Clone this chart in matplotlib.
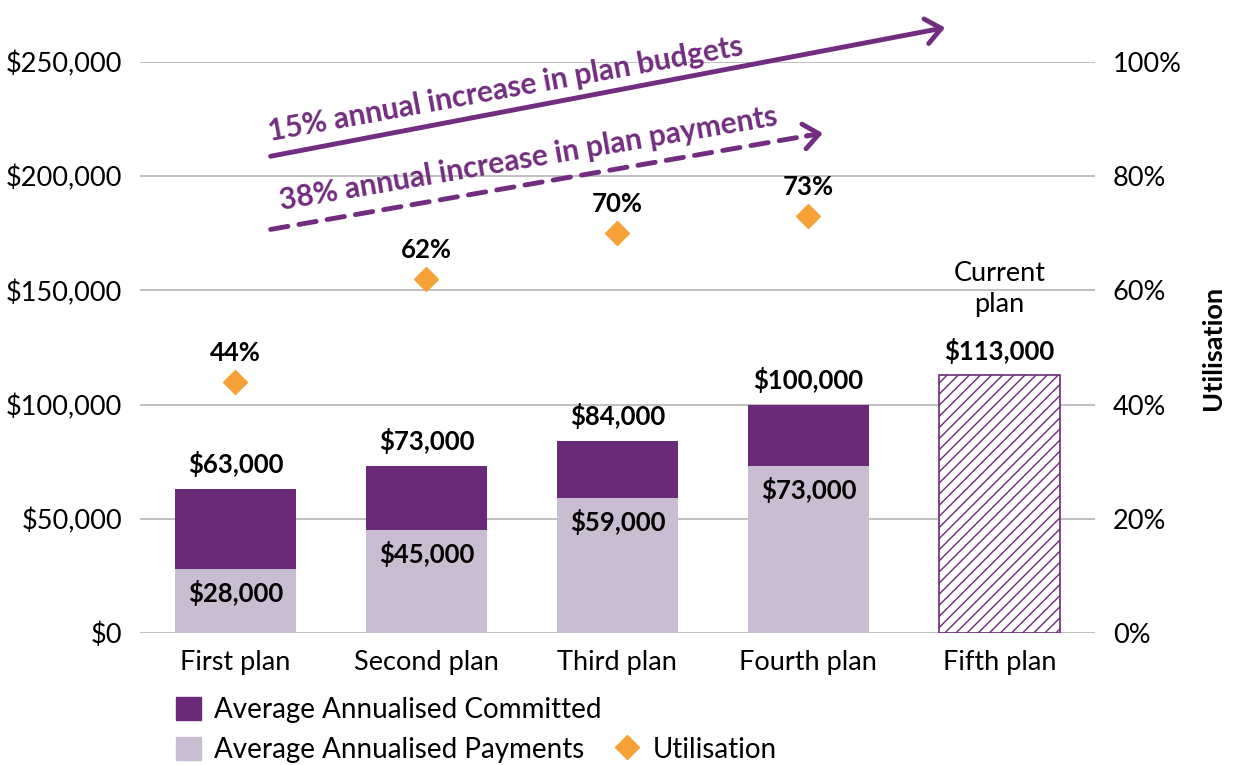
import matplotlib
matplotlib.use("Agg")
import matplotlib.pyplot as plt
from matplotlib.patches import Patch
from matplotlib.lines import Line2D

plt.rcParams['font.family'] = ['Lato', 'DejaVu Sans']
plt.rcParams['hatch.color'] = '#6b2a77'

plans = ['First plan', 'Second plan', 'Third plan', 'Fourth plan', 'Fifth plan']
committed = [63000, 73000, 84000, 100000]
payments = [28000, 45000, 59000, 73000]
current_budget = 113000
utilisation = [44, 62, 70, 73]

dark = '#6b2a77'
light = '#c9bdd2'
orange = '#f7a239'
arrow_col = '#722d80'
grid_col = '#b5b5b5'
fs = 19.5

fig = plt.figure(figsize=(12.33, 7.65), dpi=100)
ax = fig.add_axes([0.1135, 0.1725, 0.7745, 0.7465])
ax2 = ax.twinx()

x = list(range(len(plans)))
w = 0.63
n = len(committed)

ax.bar(x[:n], payments, width=w, color=light, zorder=2)
ax.bar(x[:n], [c - p for c, p in zip(committed, payments)], bottom=payments,
       width=w, color=dark, zorder=2)
ax.bar(x[n], current_budget, width=w, facecolor='white', edgecolor=dark,
       hatch='///', linewidth=1.2, zorder=2)

for i in range(n):
    ax.annotate(f'${committed[i]:,}', (x[i], committed[i]), xytext=(0, 18),
                textcoords='offset points', ha='center', va='center',
                fontsize=18.5, fontweight='bold')
    ax.annotate(f'${payments[i]:,}', (x[i], payments[i]), xytext=(0, -17),
                textcoords='offset points', ha='center', va='center',
                fontsize=18.5, fontweight='bold')
ax.annotate(f'${current_budget:,}', (x[n], current_budget), xytext=(0, 17),
            textcoords='offset points', ha='center', va='center',
            fontsize=18.5, fontweight='bold')
ax.annotate('Current\nplan', (x[n], current_budget), xytext=(0, 62),
            textcoords='offset points', ha='center', va='center',
            fontsize=fs, linespacing=1.3)

ax.set_xlim(-0.5, 4.5)
ax.set_ylim(0, 250000)
ax.set_yticks(range(0, 250001, 50000))
ax.set_yticklabels([f'${v:,}' for v in range(0, 250001, 50000)])
ax.set_xticks(x)
ax.set_xticklabels(plans)
ax.tick_params(length=0, labelsize=fs, pad=13)
ax.tick_params(axis='x', pad=12)
ax.grid(axis='y', color=grid_col, linewidth=1.2, zorder=0)
ax.set_axisbelow(True)
for s in ax.spines.values():
    s.set_visible(False)

ax2.plot(x[:n], utilisation, linestyle='none', marker='D', markersize=12,
         color=orange, zorder=3)
for i in range(n):
    ax2.annotate(f'{utilisation[i]}%', (x[i], utilisation[i]), xytext=(0, 21),
                 textcoords='offset points', ha='center', va='center',
                 fontsize=18.5, fontweight='bold')
ax2.set_ylim(0, 100)
ax2.set_yticks(range(0, 101, 20))
ax2.set_yticklabels([f'{v}%' for v in range(0, 101, 20)])
ax2.tick_params(length=0, labelsize=fs, pad=13)
ax2.set_ylabel('Utilisation', fontsize=fs, fontweight='bold', labelpad=14)
for s in ax2.spines.values():
    s.set_visible(False)

# trend arrows (axes fraction coords)
head = '->,head_length=1.1,head_width=0.9'
ax.annotate('', xy=(0.846, 1.061), xytext=(0.134, 0.834), xycoords='axes fraction',
            arrowprops=dict(arrowstyle=head, color=arrow_col, lw=3.5),
            annotation_clip=False)
ax.annotate('', xy=(0.703, 0.872), xytext=(0.134, 0.706), xycoords='axes fraction',
            arrowprops=dict(arrowstyle='-', color=arrow_col, lw=3.5,
                            linestyle=(0, (3.6, 2.3))), annotation_clip=False)
ax.annotate('', xy=(0.718, 0.876), xytext=(0.695, 0.8695), xycoords='axes fraction',
            arrowprops=dict(arrowstyle=head, color=arrow_col, lw=3.5),
            annotation_clip=False)
ax.text(0.383, 0.952, '15% annual increase in plan budgets', transform=ax.transAxes,
        rotation=10.3, ha='center', va='center', color=arrow_col, fontsize=21.5,
        fontweight='bold', rotation_mode='anchor')
ax.text(0.407, 0.83, '38% annual increase in plan payments', transform=ax.transAxes,
        rotation=9.7, ha='center', va='center', color=arrow_col, fontsize=21.5,
        fontweight='bold', rotation_mode='anchor')

handles = [Patch(color=dark), Patch(color=light), Patch(color='none'),
           Line2D([], [], linestyle='none', marker='D', color=orange, markersize=12)]
labels = ['Average Annualised Committed', 'Average Annualised Payments', '', 'Utilisation']
fig.legend(handles, labels, ncol=2, loc='lower left', bbox_to_anchor=(0.1225, -0.03),
           frameon=False, fontsize=20, handlelength=0.9, handleheight=0.9,
           handletextpad=0.45, columnspacing=0.5, labelspacing=0.5)

fig.savefig('out.png', dpi=100)
